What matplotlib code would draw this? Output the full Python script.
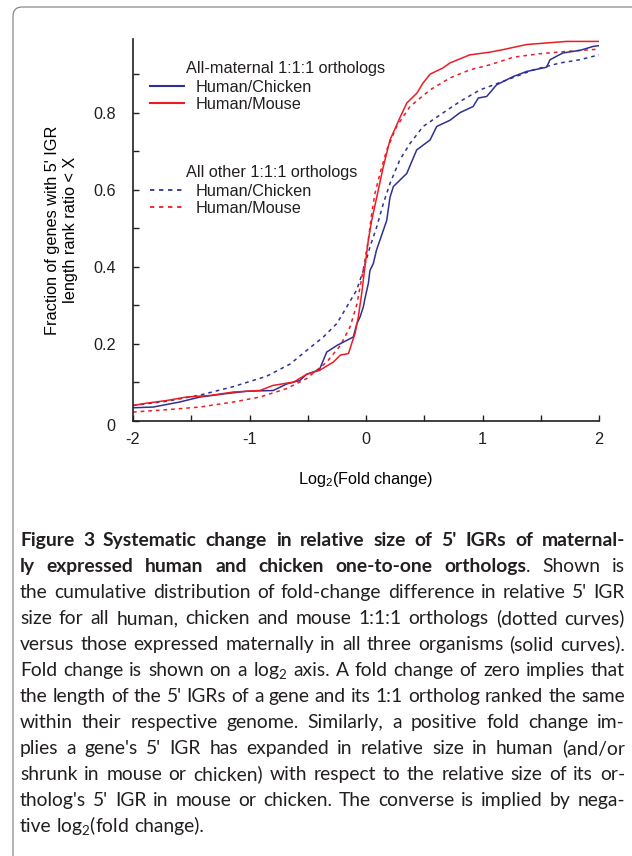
import matplotlib
matplotlib.use("Agg")
import matplotlib.pyplot as plt
from matplotlib.lines import Line2D
from matplotlib.path import Path
from matplotlib.patches import PathPatch

# Data (log2 fold change, cumulative fraction) ===
mat_chicken_x = [-2.0, -1.826, -1.6, -1.425, -1.196, -1.024, -0.796, -0.68, -0.567, -0.51,
                 -0.40, -0.337, -0.25, -0.166, -0.109, -0.08, -0.05, -0.023, -0.009, 0.02,
                 0.034, 0.063, 0.09, 0.12, 0.178, 0.206, 0.235, 0.35, 0.435, 0.55, 0.607,
                 0.72, 0.807, 0.92, 0.964, 1.036, 1.12, 1.265, 1.38, 1.55, 1.58, 1.69, 1.84,
                 1.95, 2.0]
mat_chicken_y = [0.033, 0.035, 0.048, 0.061, 0.07, 0.076, 0.078, 0.095, 0.104, 0.12,
                 0.132, 0.178, 0.195, 0.208, 0.217, 0.25, 0.27, 0.295, 0.317, 0.356,
                 0.39, 0.408, 0.443, 0.469, 0.52, 0.58, 0.608, 0.642, 0.703, 0.729, 0.764,
                 0.78, 0.80, 0.816, 0.838, 0.842, 0.872, 0.894, 0.907, 0.918, 0.9375, 0.955, 0.962,
                 0.972, 0.974]

mat_mouse_x = [-2.0, -1.885, -1.71, -1.54, -1.34, -1.14, -0.91, -0.80, -0.62, -0.51,
               -0.40, -0.28, -0.22, -0.15, -0.123, -0.094, -0.066, -0.037, -0.009, 0.02,
               0.049, 0.092, 0.149, 0.206, 0.29, 0.35, 0.435, 0.49, 0.55, 0.66, 0.72,
               0.89, 1.06, 1.15, 1.38, 1.55, 1.72, 2.0]
mat_mouse_y = [0.039, 0.045, 0.052, 0.061, 0.065, 0.074, 0.078, 0.091, 0.10, 0.12,
               0.13, 0.152, 0.17, 0.174, 0.20, 0.226, 0.269, 0.33, 0.40, 0.469,
               0.52, 0.58, 0.66, 0.729, 0.786, 0.825, 0.85, 0.877, 0.90, 0.916, 0.929,
               0.95, 0.957, 0.962, 0.977, 0.981, 0.985, 0.985]

oth_chicken_x = [-2.0, -1.71, -1.425, -1.14, -0.853, -0.65, -0.51, -0.366, -0.25, -0.166,
                 -0.08, -0.023, 0.034, 0.092, 0.149, 0.206, 0.29, 0.378, 0.49, 0.635,
                 0.807, 0.978, 1.21, 1.436, 1.665, 1.837, 2.0]
oth_chicken_y = [0.039, 0.05, 0.066, 0.088, 0.115, 0.147, 0.182, 0.217, 0.252, 0.295,
                 0.339, 0.39, 0.451, 0.503, 0.564, 0.616, 0.677, 0.72, 0.764, 0.794,
                 0.829, 0.859, 0.885, 0.911, 0.929, 0.9375, 0.95]

oth_mouse_x = [-2.0, -1.71, -1.425, -1.14, -0.91, -0.68, -0.51, -0.337, -0.22, -0.137,
               -0.08, -0.037, -0.009, 0.02, 0.049, 0.077, 0.12, 0.178, 0.263, 0.378,
               0.55, 0.72, 0.89, 1.06, 1.265, 1.49, 1.72, 2.0]
oth_mouse_y = [0.022, 0.028, 0.035, 0.048, 0.061, 0.083, 0.109, 0.152, 0.195, 0.243,
               0.30, 0.37, 0.417, 0.469, 0.538, 0.59, 0.642, 0.703, 0.764, 0.816,
               0.859, 0.89, 0.911, 0.924, 0.944, 0.953, 0.959, 0.965]

x_ticks = [-2, -1.5, -1, -0.5, 0, 0.5, 1, 1.5, 2]
x_labels = ["-2", "", "-1", "", "0", "", "1", "", "2"]
y_ticks = [0, 0.1, 0.2, 0.3, 0.4, 0.5, 0.6, 0.7, 0.8, 0.9]
y_labels = ["", "", "0.2", "", "0.4", "", "0.6", "", "0.8", ""]

caption = [
    "**Figure 3 Systematic change in relative size of 5' IGRs of maternal-",
    "ly expressed human and chicken one-to-one orthologs**. Shown is",
    "the cumulative distribution of fold-change difference in relative 5' IGR",
    "size for all human, chicken and mouse 1:1:1 orthologs (dotted curves)",
    "versus those expressed maternally in all three organisms (solid curves).",
    "Fold change is shown on a log$_2$ axis. A fold change of zero implies that",
    "the length of the 5' IGRs of a gene and its 1:1 ortholog ranked the same",
    "within their respective genome. Similarly, a positive fold change im-",
    "plies a gene's 5' IGR has expanded in relative size in human (and/or",
    "shrunk in mouse or chicken) with respect to the relative size of its or-",
    "tholog's 5' IGR in mouse or chicken. The converse is implied by nega-",
    "tive log$_2$(fold change).",
]

BLUE = "#2E3192"
RED = "#ED1C24"
TXT = "#231F20"
W, H = 632, 856

plt.rcParams["font.family"] = ["Liberation Sans", "DejaVu Sans"]
plt.rcParams["mathtext.default"] = "regular"
plt.rcParams["text.color"] = TXT

fig = plt.figure(figsize=(W / 100, H / 100), dpi=100)
ax = fig.add_axes([133 / W, 1 - 420.5 / H, 466 / W, 381 / H])

dots = (0, (2.4, 2.6))
ax.plot(oth_chicken_x, oth_chicken_y, color=BLUE, lw=1.1, linestyle=dots)
ax.plot(oth_mouse_x, oth_mouse_y, color=RED, lw=1.1, linestyle=dots)
ax.plot(mat_chicken_x, mat_chicken_y, color=BLUE, lw=1.1)
ax.plot(mat_mouse_x, mat_mouse_y, color=RED, lw=1.1)

ax.set_xlim(-2, 2)
ax.set_ylim(0, 0.99)
ax.set_xticks(x_ticks)
ax.set_xticklabels(x_labels)
ax.set_yticks(y_ticks)
ax.set_yticklabels(y_labels)
ax.tick_params(direction="in", length=4, width=1, labelsize=11.7, colors=TXT, pad=8)
ax.tick_params(axis="y", pad=12)
for s in ["top", "right"]:
    ax.spines[s].set_visible(False)
for s in ["left", "bottom"]:
    ax.spines[s].set_linewidth(1.2)
    ax.spines[s].set_color(TXT)
ax.annotate("0", xy=(-2, 0), xytext=(-22, -6), textcoords="offset pixels",
            ha="center", va="center", fontsize=11.7)

ax.set_xlabel("Log$_2$(Fold change)", fontsize=11.7, labelpad=17)
ax.set_ylabel("Fraction of genes with 5' IGR\nlength rank ratio < X", fontsize=11.7,
              labelpad=11, linespacing=1.3)

# legends in two groups
fs = 11.7
h1 = [Line2D([], [], color=BLUE, lw=1.5), Line2D([], [], color=RED, lw=1.5)]
h2 = [Line2D([], [], color=BLUE, lw=1.3, linestyle=dots),
      Line2D([], [], color=RED, lw=1.3, linestyle=dots)]
kw = dict(frameon=False, fontsize=fs, loc="upper left", borderpad=0, borderaxespad=0,
          handlelength=2.1, handletextpad=0.7, labelspacing=0.15,
          bbox_transform=fig.transFigure)
leg1 = ax.legend(h1, ["Human/Chicken", "Human/Mouse"],
                 bbox_to_anchor=(150 / W, 1 - 79.5 / H), **kw)
ax.add_artist(leg1)
ax.legend(h2, ["Human/Chicken", "Human/Mouse"],
          bbox_to_anchor=(150 / W, 1 - 183.5 / H), **kw)
fig.text(186 / W, 1 - 68 / H, "All-maternal 1:1:1 orthologs", fontsize=fs, va="center")
fig.text(186 / W, 1 - 173 / H, "All other 1:1:1 orthologs", fontsize=fs, va="center")

# frame around the figure
def fp(x, y):
    return (x / W, 1 - y / H)

verts = [fp(13, H + 2), fp(13, 16), fp(13, 7), fp(22, 7), fp(W + 2, 7)]
codes = [Path.MOVETO, Path.LINETO, Path.CURVE3, Path.CURVE3, Path.LINETO]
fig.add_artist(PathPatch(Path(verts, codes), fill=False, edgecolor="#7a7a7a", lw=0.8,
                         transform=fig.transFigure))

# caption, justified word by word
renderer = fig.canvas.get_renderer()
cap_font = ["Lato", "DejaVu Sans"]
left, right = 20, 625


def measure(s, weight, size):
    t = fig.text(0, 0, s, fontsize=size, family=cap_font, fontweight=weight)
    w = t.get_window_extent(renderer=renderer).width
    t.remove()
    return w


def split_words(lines):
    out = []
    bold = False
    for line in lines:
        words = []
        for word in line.split(" "):
            pieces = []
            for j, part in enumerate(word.split("**")):
                if j > 0:
                    bold = not bold
                if part:
                    pieces.append((part, "bold" if bold else "normal"))
            words.append(pieces)
        out.append(words)
    return out


cap_words = split_words(caption)

# pick a size so the widest line just fits at natural spacing
base = 12.0
sp = measure("x x", "normal", base) - measure("xx", "normal", base)
widest = 0
for words in cap_words[:-1]:
    nat = sum(measure(p, wt, base) for pcs in words for p, wt in pcs) + sp * (len(words) - 1)
    widest = max(widest, nat)
cap_size = base * (right - left - 4) / widest
space_w = measure("x x", "normal", cap_size) - measure("xx", "normal", cap_size)

for i, words in enumerate(cap_words):
    widths = [[measure(p, wt, cap_size) for p, wt in pcs] for pcs in words]
    total = sum(sum(w) for w in widths)
    if i < len(cap_words) - 1:
        gap = (right - left - total) / (len(words) - 1)
    else:
        gap = space_w
    x = left
    yb = 1 - (546 + 26 * i) / H
    for pcs, ws in zip(words, widths):
        for (p, wt), w in zip(pcs, ws):
            fig.text(x / W, yb, p, fontsize=cap_size, family=cap_font, fontweight=wt,
                     va="baseline", ha="left", color=TXT)
            x += w
        x += gap

fig.savefig("out.png", dpi=100)
